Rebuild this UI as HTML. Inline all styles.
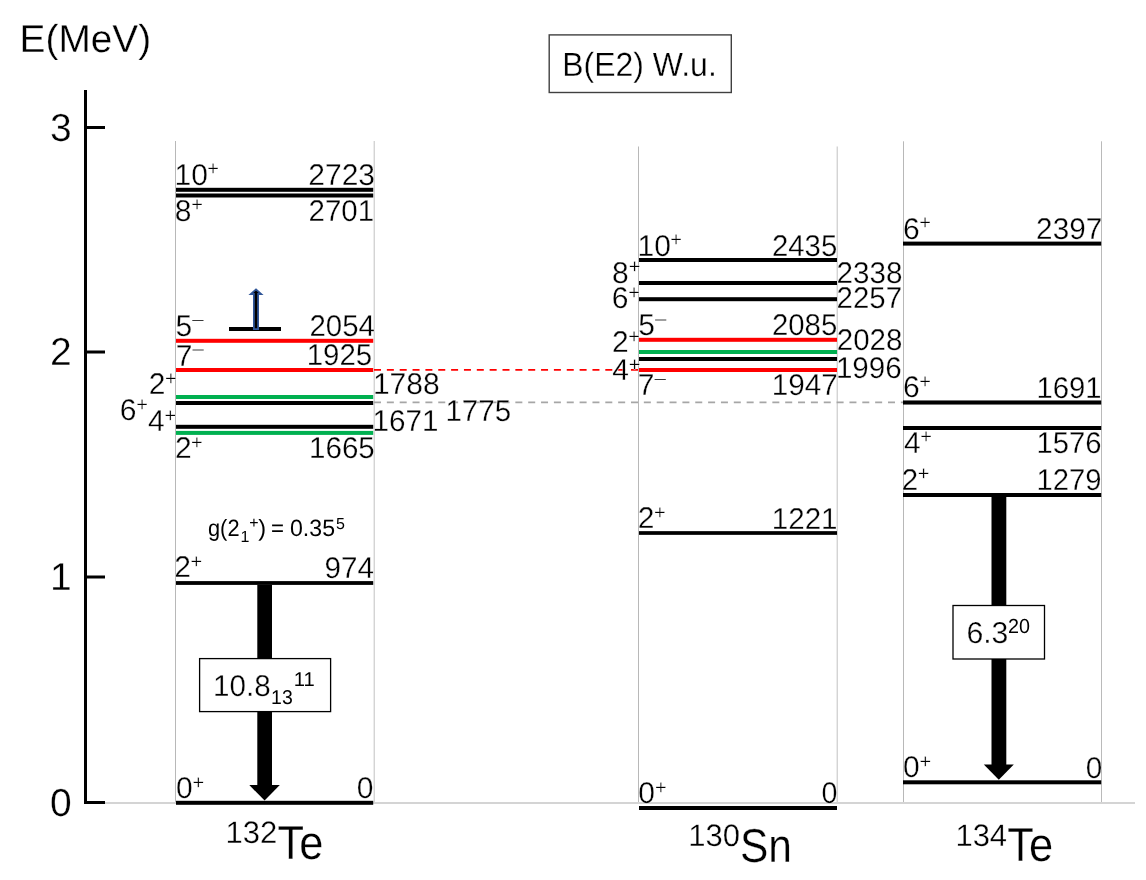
<!DOCTYPE html>
<html><head><meta charset="utf-8"><style>
html,body{margin:0;padding:0;background:#fff;width:1146px;height:880px;overflow:hidden}
svg{display:block;will-change:transform}
text{font-family:"Liberation Sans", sans-serif;fill:#000;text-rendering:geometricPrecision}
.s{stroke:#fff;stroke-width:0.3px}
</style></head><body>
<svg width="1146" height="880" viewBox="0 0 1146 880">
<rect x="84.00" y="90.00" width="3.00" height="714.00" fill="#000"/>
<rect x="84.00" y="126.00" width="21.00" height="3.00" fill="#000"/>
<rect x="84.00" y="350.50" width="21.00" height="3.00" fill="#000"/>
<rect x="84.00" y="575.50" width="21.00" height="3.00" fill="#000"/>
<rect x="84.00" y="801.00" width="21.00" height="3.00" fill="#000"/>
<rect x="105.00" y="802.00" width="1030.00" height="2.00" fill="#d4d4d4"/>
<text x="71.60" y="140.50" font-size="39" text-anchor="end" class="s">3</text>
<text x="71.60" y="365.00" font-size="39" text-anchor="end" class="s">2</text>
<text x="71.60" y="590.00" font-size="39" text-anchor="end" class="s">1</text>
<text x="71.60" y="815.50" font-size="39" text-anchor="end" class="s">0</text>
<text x="19.60" y="52.10" font-size="39" class="s" textLength="131.6" lengthAdjust="spacingAndGlyphs">E(MeV)</text>
<rect x="549.2" y="34.9" width="182.1" height="57.6" fill="none" stroke="#404040" stroke-width="1.4"/>
<text x="562.20" y="75.50" font-size="33.5" class="s" textLength="154.6" lengthAdjust="spacingAndGlyphs">B(E2) W.u.</text>
<rect x="175.00" y="141.00" width="1.00" height="661.00" fill="#b8b8b8"/>
<rect x="374.00" y="141.00" width="1.00" height="661.00" fill="#d4d4d4"/>
<rect x="373.00" y="141.00" width="1.00" height="661.00" fill="#ececec"/>
<rect x="638.00" y="146.50" width="1.00" height="655.50" fill="#b8b8b8"/>
<rect x="837.00" y="146.50" width="1.00" height="655.50" fill="#d4d4d4"/>
<rect x="836.00" y="146.50" width="1.00" height="655.50" fill="#ececec"/>
<rect x="903.00" y="141.30" width="1.00" height="660.70" fill="#b8b8b8"/>
<rect x="1101.00" y="141.30" width="1.00" height="660.70" fill="#bababa"/>
<line x1="374" y1="369.9" x2="638" y2="369.9" stroke="#ff0000" stroke-width="1.8" stroke-dasharray="7 5.85"/>
<line x1="374" y1="402.4" x2="903" y2="402.4" stroke="#a6a6a6" stroke-width="1.6" stroke-dasharray="7 5.85"/>
<rect x="176.00" y="187.80" width="197.20" height="4.00" fill="#000"/>
<rect x="176.00" y="193.50" width="197.20" height="4.00" fill="#000"/>
<rect x="176.00" y="338.80" width="197.20" height="4.00" fill="#ff0000"/>
<rect x="176.00" y="368.00" width="197.20" height="4.00" fill="#ff0000"/>
<rect x="176.00" y="395.00" width="197.20" height="4.00" fill="#00b050"/>
<rect x="176.00" y="401.00" width="197.20" height="4.00" fill="#000"/>
<rect x="176.00" y="424.80" width="197.20" height="4.00" fill="#000"/>
<rect x="176.00" y="430.90" width="197.20" height="4.00" fill="#00b050"/>
<rect x="176.00" y="581.10" width="197.20" height="3.80" fill="#000"/>
<rect x="176.00" y="800.80" width="197.20" height="4.00" fill="#000"/>
<text x="174.61" y="184.80" font-size="30" class="s">10</text>
<text x="207.32" y="175.44" font-size="20" class="s">+</text>
<text x="375.02" y="184.80" font-size="30" text-anchor="end" class="s">2723</text>
<text x="174.69" y="220.80" font-size="30" class="s">8</text>
<text x="191.27" y="211.44" font-size="20" class="s">+</text>
<text x="308.52" y="220.60" font-size="30" class="s" textLength="65.62" lengthAdjust="spacingAndGlyphs">2701</text>
<text x="175.40" y="336.00" font-size="30" class="s">5</text>
<rect x="192.30" y="320.00" width="11.20" height="1.00" fill="#383838"/>
<text x="309.52" y="336.00" font-size="30" class="s" textLength="65.44" lengthAdjust="spacingAndGlyphs">2054</text>
<text x="175.66" y="365.50" font-size="30" class="s">7</text>
<rect x="192.50" y="349.50" width="11.20" height="1.00" fill="#404040"/>
<text x="306.76" y="365.30" font-size="30" class="s" textLength="65.48" lengthAdjust="spacingAndGlyphs">1925</text>
<text x="148.79" y="394.00" font-size="30" class="s">2</text>
<text x="165.02" y="384.64" font-size="20" class="s">+</text>
<text x="372.91" y="394.20" font-size="30" class="s">1788</text>
<text x="119.78" y="420.20" font-size="30" class="s">6</text>
<text x="136.22" y="410.84" font-size="20" class="s">+</text>
<text x="148.01" y="431.20" font-size="30" class="s">4</text>
<text x="164.42" y="421.84" font-size="20" class="s">+</text>
<text x="372.54" y="430.60" font-size="30" class="s" textLength="65.90" lengthAdjust="spacingAndGlyphs">1671</text>
<text x="445.45" y="420.50" font-size="30" class="s" textLength="65.69" lengthAdjust="spacingAndGlyphs">1775</text>
<text x="174.89" y="458.00" font-size="30" class="s">2</text>
<text x="191.12" y="448.64" font-size="20" class="s">+</text>
<text x="309.05" y="457.80" font-size="30" class="s" textLength="65.69" lengthAdjust="spacingAndGlyphs">1665</text>
<text x="174.29" y="577.30" font-size="30" class="s">2</text>
<text x="190.52" y="567.94" font-size="20" class="s">+</text>
<text x="324.61" y="577.50" font-size="30" class="s" textLength="49.46" lengthAdjust="spacingAndGlyphs">974</text>
<text x="175.93" y="798.30" font-size="30" class="s">0</text>
<text x="192.52" y="788.94" font-size="20" class="s">+</text>
<text x="373.47" y="798.30" font-size="30" text-anchor="end" class="s">0</text>
<text x="208.00" y="536.00" font-size="23.5" textLength="31.5" lengthAdjust="spacingAndGlyphs">g(2</text>
<text x="240.60" y="542.30" font-size="16">1</text>
<text x="249.20" y="527.50" font-size="16">+</text>
<text x="258.30" y="536.00" font-size="23.5">)</text>
<text x="271.00" y="536.00" font-size="23.5" textLength="13" lengthAdjust="spacingAndGlyphs">=</text>
<text x="290.00" y="536.00" font-size="23.5" textLength="45" lengthAdjust="spacingAndGlyphs">0.35</text>
<text x="336.00" y="528.60" font-size="16">5</text>
<rect x="229.00" y="327.00" width="52.00" height="4.00" fill="#000"/>
<path d="M256 289.4 L261.2 294 L258.1 294 L258.1 329.2 L253.9 329.2 L253.9 294 L250.8 294 Z" fill="#000" stroke="#2f5597" stroke-width="1.8" stroke-linejoin="miter"/>
<rect x="257.30" y="584.70" width="14.70" height="200.80" fill="#000"/>
<path d="M249.3 785.1 L279.8 785.1 L264.6 800.6 Z" fill="#000"/>
<rect x="199.6" y="658.6" width="131" height="53" fill="#fff" stroke="#000" stroke-width="1.3"/>
<text x="213.00" y="695.90" font-size="30" class="s" textLength="57.6" lengthAdjust="spacingAndGlyphs">10.8</text>
<text x="271.12" y="704.30" font-size="20" textLength="21.64" lengthAdjust="spacingAndGlyphs">13</text>
<text x="293.86" y="685.80" font-size="20" textLength="20.96" lengthAdjust="spacingAndGlyphs">11</text>
<text x="225.50" y="843.00" font-size="31" class="s">132</text>
<text x="277.50" y="858.60" font-size="47.5" class="s" textLength="45.8" lengthAdjust="spacingAndGlyphs">Te</text>
<rect x="639.00" y="258.00" width="198.00" height="4.00" fill="#000"/>
<rect x="639.00" y="281.00" width="198.00" height="4.00" fill="#000"/>
<rect x="639.00" y="297.20" width="198.00" height="4.00" fill="#000"/>
<rect x="639.00" y="337.80" width="198.00" height="4.00" fill="#ff0000"/>
<rect x="639.00" y="350.00" width="198.00" height="4.00" fill="#00b050"/>
<rect x="639.00" y="357.00" width="198.00" height="4.00" fill="#000"/>
<rect x="639.00" y="368.00" width="198.00" height="4.00" fill="#ff0000"/>
<rect x="639.00" y="531.15" width="198.00" height="3.70" fill="#000"/>
<rect x="639.00" y="806.00" width="198.00" height="4.00" fill="#000"/>
<text x="637.51" y="255.50" font-size="30" class="s">10</text>
<text x="670.22" y="246.14" font-size="20" class="s">+</text>
<text x="771.92" y="255.80" font-size="30" class="s" textLength="65.41" lengthAdjust="spacingAndGlyphs">2435</text>
<text x="612.10" y="282.70" font-size="30" class="s">8</text>
<text x="628.67" y="273.34" font-size="20" class="s">+</text>
<text x="836.61" y="282.80" font-size="30" class="s" textLength="65.88" lengthAdjust="spacingAndGlyphs">2338</text>
<text x="611.78" y="308.20" font-size="30" class="s">6</text>
<text x="628.22" y="298.84" font-size="20" class="s">+</text>
<text x="836.62" y="308.40" font-size="30" class="s" textLength="65.46" lengthAdjust="spacingAndGlyphs">2257</text>
<text x="638.20" y="335.20" font-size="30" class="s">5</text>
<rect x="655.10" y="319.50" width="11.20" height="1.00" fill="#404040"/>
<text x="771.92" y="335.20" font-size="30" class="s" textLength="65.41" lengthAdjust="spacingAndGlyphs">2085</text>
<text x="612.09" y="352.40" font-size="30" class="s">2</text>
<text x="628.32" y="343.04" font-size="20" class="s">+</text>
<text x="836.72" y="349.60" font-size="30" class="s" textLength="65.67" lengthAdjust="spacingAndGlyphs">2028</text>
<text x="612.31" y="380.00" font-size="30" class="s">4</text>
<text x="628.72" y="370.64" font-size="20" class="s">+</text>
<text x="835.95" y="377.80" font-size="30" class="s" textLength="65.75" lengthAdjust="spacingAndGlyphs">1996</text>
<text x="637.76" y="395.00" font-size="30" class="s">7</text>
<rect x="654.60" y="379.00" width="11.20" height="1.00" fill="#383838"/>
<text x="771.73" y="394.90" font-size="30" class="s" textLength="66.16" lengthAdjust="spacingAndGlyphs">1947</text>
<text x="637.79" y="528.30" font-size="30" class="s">2</text>
<text x="654.02" y="518.94" font-size="20" class="s">+</text>
<text x="771.75" y="528.50" font-size="30" class="s" textLength="65.80" lengthAdjust="spacingAndGlyphs">1221</text>
<text x="638.33" y="803.00" font-size="30" class="s">0</text>
<text x="654.92" y="793.64" font-size="20" class="s">+</text>
<text x="821.48" y="803.20" font-size="30" class="s" textLength="15.94" lengthAdjust="spacingAndGlyphs">0</text>
<text x="688.30" y="845.90" font-size="31" class="s">130</text>
<text x="740.00" y="861.60" font-size="47.5" class="s" textLength="52" lengthAdjust="spacingAndGlyphs">Sn</text>
<rect x="903.00" y="241.60" width="198.20" height="4.00" fill="#000"/>
<rect x="903.00" y="400.45" width="198.20" height="4.10" fill="#000"/>
<rect x="903.00" y="426.00" width="198.20" height="4.00" fill="#000"/>
<rect x="903.00" y="493.00" width="198.20" height="4.00" fill="#000"/>
<rect x="903.00" y="780.30" width="198.20" height="4.00" fill="#000"/>
<text x="902.88" y="238.70" font-size="30" class="s">6</text>
<text x="919.32" y="229.34" font-size="20" class="s">+</text>
<text x="1036.11" y="239.00" font-size="30" class="s" textLength="66.09" lengthAdjust="spacingAndGlyphs">2397</text>
<text x="902.88" y="397.40" font-size="30" class="s">6</text>
<text x="919.32" y="388.04" font-size="20" class="s">+</text>
<text x="1036.57" y="397.60" font-size="30" class="s" textLength="65.06" lengthAdjust="spacingAndGlyphs">1691</text>
<text x="903.91" y="452.60" font-size="30" class="s">4</text>
<text x="920.32" y="443.24" font-size="20" class="s">+</text>
<text x="1036.58" y="453.20" font-size="30" class="s" textLength="64.91" lengthAdjust="spacingAndGlyphs">1576</text>
<text x="901.49" y="489.70" font-size="30" class="s">2</text>
<text x="917.72" y="480.34" font-size="20" class="s">+</text>
<text x="1036.57" y="490.20" font-size="30" class="s" textLength="65.01" lengthAdjust="spacingAndGlyphs">1279</text>
<text x="903.03" y="777.40" font-size="30" class="s">0</text>
<text x="919.62" y="768.04" font-size="20" class="s">+</text>
<text x="1085.64" y="777.50" font-size="30" class="s" textLength="16.52" lengthAdjust="spacingAndGlyphs">0</text>
<rect x="991.50" y="497.00" width="14.80" height="268.00" fill="#000"/>
<path d="M983.8 764.5 L1013.8 764.5 L998.8 779.8 Z" fill="#000"/>
<rect x="953" y="605.5" width="91.5" height="53.5" fill="#fff" stroke="#000" stroke-width="1.3"/>
<text x="966.40" y="643.30" font-size="30.2" class="s">6.3</text>
<text x="1008.11" y="633.20" font-size="20.3" textLength="21.96" lengthAdjust="spacingAndGlyphs">20</text>
<text x="955.40" y="846.10" font-size="31" class="s">134</text>
<text x="1007.30" y="861.40" font-size="47.5" class="s" textLength="45.8" lengthAdjust="spacingAndGlyphs">Te</text>
</svg>
</body></html>
